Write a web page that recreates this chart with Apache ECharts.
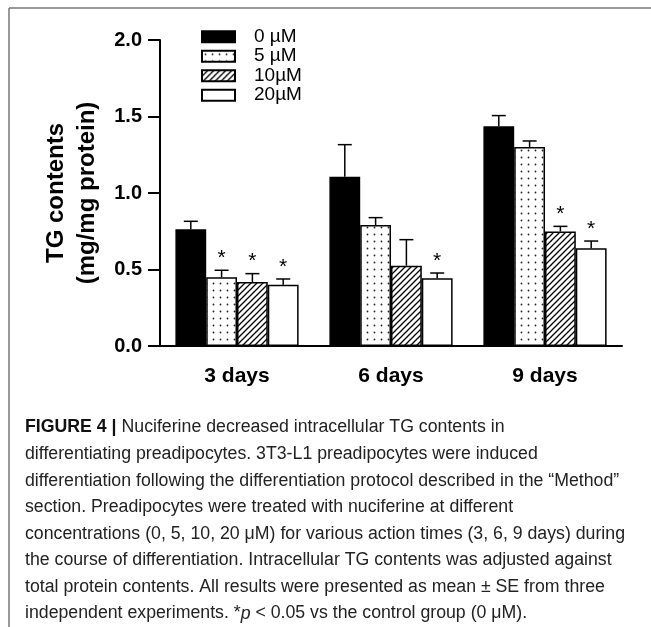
<!DOCTYPE html>
<html>
<head>
<meta charset="utf-8">
<script src="https://cdn.jsdelivr.net/npm/echarts@6/dist/echarts.min.js"></script>
<style>
html,body{margin:0;padding:0;background:#fff;}
#c{width:651px;height:627px;}
</style>
</head>
<body>
<div id="c"></div>
<script>
// ---- data ----
var categories = ['3 days', '6 days', '9 days'];
var seriesNames = ['0 µM', '5 µM', '10µM', '20µM'];
var mean0 = [0.763, 1.107, 1.436];
var mean5 = [0.449, 0.791, 1.300];
var mean10 = [0.418, 0.525, 0.748];
var mean20 = [0.401, 0.442, 0.639];
var se0 = [0.052, 0.209, 0.070];
var se5 = [0.046, 0.048, 0.040];
var se10 = [0.055, 0.170, 0.034];
var se20 = [0.037, 0.035, 0.047];
var sig0 = [0, 0, 0];
var sig5 = [1, 0, 0];
var sig10 = [1, 0, 1];
var sig20 = [1, 1, 1];
var yTicks = [0, 0.5, 1.0, 1.5, 2.0];
var captionLines = [
  ['FIGURE 4 | ', 'Nuciferine decreased intracellular TG contents in'],
  ['', 'differentiating preadipocytes. 3T3-L1 preadipocytes were induced'],
  ['', 'differentiation following the differentiation protocol described in the \u201cMethod\u201d'],
  ['', 'section. Preadipocytes were treated with nuciferine at different'],
  ['', 'concentrations (0, 5, 10, 20 \u03bcM) for various action times (3, 6, 9 days) during'],
  ['', 'the course of differentiation. Intracellular TG contents was adjusted against'],
  ['', 'total protein contents. All results were presented as mean \u00b1 SE from three'],
  ['', 'independent experiments. *p < 0.05 vs the control group (0 \u03bcM).']
];

var means = [mean0, mean5, mean10, mean20];
var ses = [se0, se5, se10, se20];
var sigs = [sig0, sig5, sig10, sig20];

// ---- patterns ----
function dotPattern() {
  var c = document.createElement('canvas'); c.width = 7; c.height = 7;
  var g = c.getContext('2d');
  g.fillStyle = '#fff'; g.fillRect(0, 0, 7, 7);
  g.fillStyle = '#222'; g.beginPath(); g.arc(3.5, 3.5, 0.9, 0, Math.PI * 2); g.fill();
  return c;
}
function hatchPattern() {
  var s = 6;
  var c = document.createElement('canvas'); c.width = s; c.height = s;
  var g = c.getContext('2d');
  g.fillStyle = '#fff'; g.fillRect(0, 0, s, s);
  g.strokeStyle = '#000'; g.lineWidth = 1.3;
  g.beginPath();
  g.moveTo(-1, s + 1); g.lineTo(s + 1, -1);
  g.moveTo(-1, 1); g.lineTo(1, -1);
  g.moveTo(s - 1, s + 1); g.lineTo(s + 1, s - 1);
  g.stroke();
  return c;
}
var fills = [
  '#000',
  {image: dotPattern(), repeat: 'repeat'},
  {image: hatchPattern(), repeat: 'repeat'},
  '#fff'
];

var series = [];
for (var s = 0; s < 4; s++) {
  series.push({
    name: seriesNames[s],
    type: 'bar',
    data: means[s],
    barGap: '0%',
    barCategoryGap: '20%',
    itemStyle: {color: fills[s], borderColor: '#000', borderWidth: 1.5},
    emphasis: {disabled: true},
    z: 2
  });
}

var errData = [];
for (var s2 = 0; s2 < 4; s2++) {
  for (var i = 0; i < categories.length; i++) {
    errData.push([i, means[s2][i], means[s2][i] + ses[s2][i], sigs[s2][i], s2]);
  }
}
series.push({
  type: 'custom',
  data: errData,
  encode: {x: 0, y: 2},
  clip: false,
  z: 5,
  silent: true,
  renderItem: function (params, api) {
    var ci = api.value(0), m = api.value(1), top = api.value(2), sg = api.value(3), si = api.value(4);
    var band = api.size([1, 0])[0];
    var barW = band * 0.8 / 4;
    var base = api.coord([ci, m]);
    var tp = api.coord([ci, top]);
    var cx = base[0] - 2 * barW + (si + 0.5) * barW;
    var style = {stroke: '#000', lineWidth: 1.5};
    var kids = [
      {type: 'line', shape: {x1: cx, y1: base[1], x2: cx, y2: tp[1]}, style: style},
      {type: 'line', shape: {x1: cx - 7, y1: tp[1], x2: cx + 7, y2: tp[1]}, style: style}
    ];
    if (sg) {
      kids.push({type: 'text', x: cx, y: tp[1] - 12,
        style: {text: '*', font: '21px "Liberation Sans", Arial', fill: '#000', align: 'center', verticalAlign: 'middle'}});
    }
    return {type: 'group', children: kids};
  }
});

// ---- caption graphics ----
var capFont = '18px "Liberation Sans Narrow", "Liberation Sans", Arial';
var capBold = 'bold 18px "Liberation Sans Narrow", "Liberation Sans", Arial';
var mc = document.createElement('canvas').getContext('2d');
mc.font = capFont;
var refW = mc.measureText(captionLines[4][1]).width;
var sx = 600 / refW;
var capY = [427, 454.5, 481, 507.5, 534, 560.5, 587, 613.5];
var graphics = [
  {type: 'line', shape: {x1: 9, y1: 8, x2: 651, y2: 8}, style: {stroke: '#777', lineWidth: 1.5}},
  {type: 'line', shape: {x1: 9, y1: 8, x2: 9, y2: 627}, style: {stroke: '#777', lineWidth: 1.5}}
];
captionLines.forEach(function (ln, k) {
  var txt = ln[0] ? '{b|' + ln[0] + '}{r|' + ln[1] + '}' : ln[1];
  if (k === 7) txt = '{r|independent experiments. *}{i|p}{r| < 0.05 vs the control group (0 \u03bcM).}';
  graphics.push({
    type: 'text', x: 25, y: capY[k], scaleX: sx, scaleY: 1,
    style: {
      text: txt, font: capFont, fill: '#222', verticalAlign: 'middle',
      rich: {
        b: {font: capBold, fill: '#111'},
        r: {font: capFont, fill: '#222'},
        i: {font: 'italic ' + capFont, fill: '#222'}
      }
    }
  });
});

var chart = echarts.init(document.getElementById('c'), null, {renderer: 'canvas'});
chart.setOption({
  animation: false,
  backgroundColor: '#fff',
  grid: {left: 160, right: 29, top: 40, bottom: 281, containLabel: false},
  legend: {
    data: seriesNames,
    orient: 'vertical',
    left: 196, top: 22,
    itemWidth: 33, itemHeight: 11, itemGap: 0,
    icon: 'rect',
    selectedMode: false,
    textStyle: {fontSize: 19, color: '#000', fontFamily: '"Liberation Sans", Arial', lineHeight: 19.5, padding: [0, 0, 0, 14]}
  },
  xAxis: {
    type: 'category',
    data: categories,
    axisLine: {lineStyle: {color: '#000', width: 2}},
    axisTick: {alignWithLabel: true, length: 12, lineStyle: {color: '#000', width: 2}},
    axisLabel: {color: '#000', fontWeight: 'bold', fontSize: 21, fontFamily: '"Liberation Sans", Arial', margin: 20}
  },
  yAxis: {
    type: 'value',
    min: yTicks[0], max: yTicks[yTicks.length - 1], interval: 0.5,
    name: 'TG contents\n(mg/mg protein)',
    nameLocation: 'middle',
    nameGap: 57,
    nameTextStyle: {color: '#000', fontWeight: 'bold', fontSize: 24, fontFamily: '"Liberation Sans", Arial', lineHeight: 31},
    axisLine: {show: true, lineStyle: {color: '#000', width: 2}},
    axisTick: {show: true, length: 12, lineStyle: {color: '#000', width: 2}},
    splitLine: {show: false},
    axisLabel: {color: '#000', fontWeight: 'bold', fontSize: 20, fontFamily: '"Liberation Sans", Arial', margin: 18,
      formatter: function (v) { return v.toFixed(1); }}
  },
  series: series,
  graphic: graphics
});
</script>
</body>
</html>
